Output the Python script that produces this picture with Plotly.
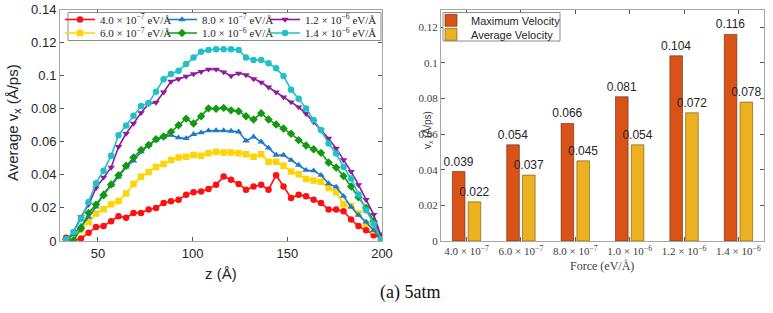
import plotly.graph_objects as go

# ---------------- data ----------------
z = [33.2, 37.2, 41.1, 45.1, 49.0, 53.0, 57.0, 60.9, 64.9, 68.8, 72.8, 76.8, 80.7, 84.7,
     88.6, 92.6, 96.6, 100.5, 104.5, 108.4, 112.4, 116.4, 120.3, 124.3, 128.2, 132.2, 136.2,
     140.1, 144.1, 148.0, 152.0, 156.0, 159.9, 163.9, 167.8, 171.8, 175.8, 179.7, 183.7,
     187.6, 191.6, 195.6, 199.5]

v_4e7 = [0.002, 0.0005, 0.0015, 0.005, 0.0085, 0.009, 0.012, 0.015, 0.014, 0.017, 0.017,
         0.019, 0.020, 0.023, 0.024, 0.025, 0.028, 0.0295, 0.030, 0.0315, 0.034, 0.039, 0.037,
         0.0345, 0.031, 0.033, 0.034, 0.031, 0.0398, 0.033, 0.026, 0.028, 0.027, 0.025, 0.023,
         0.019, 0.019, 0.018, 0.013, 0.009, 0.0065, 0.0035, 0.0015]
v_6e7 = [0.0005, 0.003, 0.007, 0.0115, 0.0166, 0.0192, 0.0222, 0.0242, 0.0287, 0.0344, 0.0388,
         0.0418, 0.0448, 0.0465, 0.049, 0.0505, 0.051, 0.052, 0.0515, 0.053, 0.054, 0.0535,
         0.0535, 0.053, 0.0525, 0.051, 0.0525, 0.048, 0.048, 0.0455, 0.042, 0.0403, 0.0375,
         0.0366, 0.0358, 0.032, 0.0295, 0.0222, 0.0212, 0.0166, 0.0105, 0.0065, 0.002]
v_8e7 = [0.0008, 0.004, 0.009, 0.0145, 0.0206, 0.0287, 0.0337, 0.0388, 0.0448, 0.0485, 0.054,
         0.058, 0.061, 0.063, 0.064, 0.0625, 0.062, 0.0645, 0.0655, 0.0667, 0.0668, 0.0668,
         0.0665, 0.066, 0.0606, 0.063, 0.060, 0.0563, 0.052, 0.052, 0.0489, 0.0459, 0.0428,
         0.0425, 0.0398, 0.0347, 0.0327, 0.0271, 0.0206, 0.0156, 0.0115, 0.0065, 0.0014]
v_1e6 = [0.001, 0.0005, 0.0075, 0.017, 0.022, 0.0277, 0.0342, 0.0398, 0.0455, 0.0505, 0.055,
         0.058, 0.0615, 0.0632, 0.066, 0.070, 0.074, 0.071, 0.0755, 0.0802, 0.080, 0.0805,
         0.079, 0.0785, 0.0755, 0.0735, 0.0772, 0.0735, 0.0705, 0.068, 0.0648, 0.061, 0.0577,
         0.0555, 0.0533, 0.0475, 0.0444, 0.0393, 0.033, 0.0265, 0.020, 0.012, 0.003]
v_12e6 = [0.0, 0.0055, 0.0146, 0.022, 0.032, 0.0385, 0.0445, 0.057, 0.065, 0.0711, 0.0775,
          0.083, 0.0838, 0.090, 0.0965, 0.098, 0.0995, 0.101, 0.1024, 0.1038, 0.1038, 0.1022,
          0.0998, 0.1014, 0.1004, 0.098, 0.096, 0.093, 0.090, 0.087, 0.084, 0.081, 0.077,
          0.072, 0.067, 0.062, 0.056, 0.049, 0.042, 0.034, 0.025, 0.016, 0.003]
v_14e6 = [0.001, 0.0055, 0.0135, 0.0236, 0.035, 0.0425, 0.0515, 0.064, 0.0698, 0.0758, 0.0816,
          0.0835, 0.0903, 0.0978, 0.101, 0.103, 0.107, 0.111, 0.1145, 0.1155, 0.116, 0.116,
          0.116, 0.1155, 0.111, 0.1095, 0.1095, 0.1075, 0.1044, 0.0998, 0.0915, 0.086, 0.0802,
          0.0731, 0.0671, 0.059, 0.0529, 0.0448, 0.0378, 0.0281, 0.0186, 0.0105, 0.001]

series_names = ["4.0 × 10<sup>−7</sup> eV/Å", "6.0 × 10<sup>−7</sup> eV/Å",
                "8.0 × 10<sup>−7</sup> eV/Å", "1.0 × 10<sup>−6</sup> eV/Å",
                "1.2 × 10<sup>−6</sup> eV/Å", "1.4 × 10<sup>−6</sup> eV/Å"]

force_labels = ["4.0 × 10<sup>−7</sup>", "6.0 × 10<sup>−7</sup>", "8.0 × 10<sup>−7</sup>",
                "1.0 × 10<sup>−6</sup>", "1.2 × 10<sup>−6</sup>", "1.4 × 10<sup>−6</sup>"]
max_velocity = [0.039, 0.054, 0.066, 0.081, 0.104, 0.116]
avg_velocity = [0.022, 0.037, 0.045, 0.054, 0.072, 0.078]

left_yticks = [0, 0.02, 0.04, 0.06, 0.08, 0.1, 0.12, 0.14]
left_yticktext = ["0", "0.02", "0.04", "0.06", "0.08", "0.1", "0.12", "0.14"]
left_xticks = [50, 100, 150, 200]
right_yticks = [0, 0.02, 0.04, 0.06, 0.08, 0.1, 0.12]
right_yticktext = ["0", "0.02", "0.04", "0.06", "0.08", "0.1", "0.12"]

# ---------------- styles ----------------
W, H = 773, 313
colors = ["#FF1010", "#FFD400", "#1F78C8", "#109A10", "#8E1A9E", "#20C0C8"]
symbols = ["circle", "square", "triangle-up", "diamond", "triangle-down", "circle"]
# one legend per entry so the 3x2 grid can be placed exactly
legend_ids = ["legend", "legend5", "legend3", "legend6", "legend4", "legend7"]
legend_xy = [(60, 19.5), (60, 33), (162, 19.5), (162, 33), (265, 19.5), (265, 33)]

sans = "Liberation Sans, Arial, sans-serif"
serif = "Liberation Serif, Times New Roman, serif"
axis_line = "#a6a6a6"

fig = go.Figure()
all_series = [v_4e7, v_6e7, v_8e7, v_1e6, v_12e6, v_14e6]
for i, ys in enumerate(all_series):
    fig.add_trace(go.Scatter(
        x=z, y=ys, mode="lines+markers", name=series_names[i],
        line=dict(color=colors[i], width=1.6),
        marker=dict(color=colors[i], symbol=symbols[i], size=6.5),
        xaxis="x", yaxis="y", legend=legend_ids[i]))

bar_text_font = dict(family=sans, size=12, color="#262626")
fig.add_trace(go.Bar(
    x=list(range(len(force_labels))), y=max_velocity, name="Maximum Velocity",
    marker=dict(color="#D95319", line=dict(color="#5a2a10", width=0.6)),
    text=[f"{v:.3f}" for v in max_velocity], textposition="outside",
    textfont=bar_text_font, constraintext="none", cliponaxis=False,
    xaxis="x2", yaxis="y2", legend="legend2"))
fig.add_trace(go.Bar(
    x=list(range(len(force_labels))), y=avg_velocity, name="Average Velocity",
    marker=dict(color="#EDB120", line=dict(color="#6a5010", width=0.6)),
    text=[f"{v:.3f}" for v in avg_velocity], textposition="outside",
    textfont=bar_text_font, constraintext="none", cliponaxis=False,
    xaxis="x2", yaxis="y2", legend="legend8"))

y_bot = 1 - 241 / H
y_top = 1 - 9.5 / H


def one_legend(x_px, yc_px, family, size):
    return dict(x=x_px / W, y=1 - yc_px / H, xanchor="left", yanchor="middle",
                orientation="h", bgcolor="rgba(0,0,0,0)", borderwidth=0,
                font=dict(family=family, size=size, color="#262626"),
                itemwidth=30, tracegroupgap=0)


def common_axis(**kw):
    d = dict(showline=True, linecolor=axis_line, linewidth=1, mirror="allticks",
             ticks="inside", ticklen=4, tickcolor="#555", showgrid=False, zeroline=False)
    d.update(kw)
    return d


layout_legends = {}
for lid, (lx, ly) in zip(legend_ids, legend_xy):
    layout_legends[lid] = one_legend(lx, ly, serif, 11)
layout_legends["legend2"] = one_legend(431, 20.3, sans, 11)
layout_legends["legend8"] = one_legend(431, 34.3, sans, 11)

fig.update_layout(
    width=W, height=H, margin=dict(l=0, r=0, t=0, b=0, autoexpand=False),
    paper_bgcolor="white", plot_bgcolor="white",
    showlegend=True, barmode="group", bargap=0.42, bargroupgap=0.2,
    xaxis=common_axis(domain=[60 / W, 382 / W], range=[30, 200], tickvals=left_xticks,
                      tickfont=dict(family=sans, size=13, color="#262626"), anchor="y"),
    yaxis=common_axis(domain=[y_bot, y_top], range=[0, 0.14], tickvals=left_yticks,
                      ticktext=left_yticktext,
                      tickfont=dict(family=sans, size=13, color="#262626"), anchor="x"),
    xaxis2=common_axis(domain=[441 / W, 764 / W], range=[-0.47, 5.47],
                       tickvals=list(range(len(force_labels))), ticktext=force_labels,
                       tickfont=dict(family=serif, size=11, color="#404040"), anchor="y2"),
    yaxis2=common_axis(domain=[y_bot, y_top], range=[0, 0.13], tickvals=right_yticks,
                       ticktext=right_yticktext,
                       tickfont=dict(family=serif, size=11, color="#404040"), anchor="x2"),
    shapes=[
        dict(type="rect", xref="paper", yref="paper", x0=68 / W, x1=381 / W,
             y0=1 - 40.5 / H, y1=1 - 12.5 / H, fillcolor="white",
             line=dict(color="#8c8c8c", width=1), layer="above"),
        dict(type="rect", xref="paper", yref="paper", x0=443 / W, x1=560 / W,
             y0=1 - 41 / H, y1=1 - 12.5 / H, fillcolor="white",
             line=dict(color="#8c8c8c", width=1), layer="above"),
    ],
    annotations=[
        dict(text="Average v<sub>x</sub> (Å/ps)", x=13 / W, y=1 - 123 / H, xref="paper",
             yref="paper", textangle=-90, showarrow=False, xanchor="center",
             yanchor="middle", font=dict(family=sans, size=15, color="#262626")),
        dict(text="z (Å)", x=221 / W, y=1 - 273 / H, xref="paper", yref="paper",
             showarrow=False, xanchor="center", yanchor="middle",
             font=dict(family=sans, size=15, color="#262626")),
        dict(text="v<sub>x</sub> (Å/ps)", x=427 / W, y=1 - 130 / H, xref="paper",
             yref="paper", textangle=-90, showarrow=False, xanchor="center",
             yanchor="middle", font=dict(family=sans, size=10, color="#404040")),
        dict(text="Force (eV/Å)", x=602 / W, y=1 - 266 / H, xref="paper", yref="paper",
             showarrow=False, xanchor="center", yanchor="middle",
             font=dict(family=serif, size=12, color="#404040")),
        dict(text="(a) 5atm", x=410 / W, y=1 - 292 / H, xref="paper", yref="paper",
             showarrow=False, xanchor="center", yanchor="middle",
             font=dict(family=serif, size=18, color="#111111")),
    ],
    **layout_legends,
)

fig.write_html("out.html")
